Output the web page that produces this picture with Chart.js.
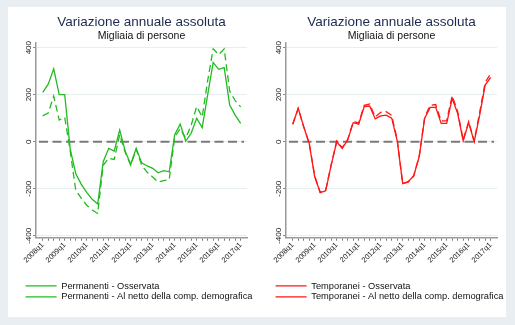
<!DOCTYPE html>
<html>
<head>
<meta charset="utf-8">
<script src="https://cdn.jsdelivr.net/npm/chart.js@4.4.1/dist/chart.umd.min.js"></script>
<style>
  body { margin: 0; background: #e8eef1; }
  #page { position: relative; width: 515px; height: 325px; overflow: hidden; }
  #panel { position: absolute; left: 8px; top: 7px; width: 498px; height: 310px; background: #fff; }
  canvas { position: absolute; top: 0; }
  #cLeft { left: 0; }
  #cRight { left: 250px; }
</style>
</head>
<body>
<div id="page">
  <div id="panel"></div>
  <canvas id="cLeft" width="260" height="325"></canvas>
  <canvas id="cRight" width="260" height="325"></canvas>
</div>
<script>
// quarters 2008q1 .. 2017q1
var quarters = [
  "2008q1", "2008q2", "2008q3", "2008q4", "2009q1", "2009q2", "2009q3", "2009q4",
  "2010q1", "2010q2", "2010q3", "2010q4", "2011q1", "2011q2", "2011q3", "2011q4",
  "2012q1", "2012q2", "2012q3", "2012q4", "2013q1", "2013q2", "2013q3", "2013q4",
  "2014q1", "2014q2", "2014q3", "2014q4", "2015q1", "2015q2", "2015q3", "2015q4",
  "2016q1", "2016q2", "2016q3", "2016q4", "2017q1"
];

// Permanenti (migliaia)
var permOss = [210, 245, 310, 200, 200, -30, -135, -180, -215, -245, -265, -85, -28, -40, 50, -40,
  -96, -28, -90, -103, -113, -132, -123, -128, 30, 75, 3, 36, 100, 60, 200, 337,
  308, 315, 156, 113, 78];
var permNetto = [110, 122, 194, 92, 104, -40, -205, -240, -270, -290, -305, -100, -70, -75, 30, -45,
  -100, -32, -100, -130, -150, -172, -165, -162, 20, 55, 15, 70, 150, 105, 260, 395,
  370, 395, 215, 175, 148];

// Temporanei (migliaia)
var tempOss = [74, 142, 64, -7, -149, -217, -208, -99, 0, -28, 7, 81, 75, 149, 152, 97,
  110, 113, 100, 5, -178, -170, -145, -64, 100, 146, 146, 78, 78, 184, 120, 4,
  81, 0, 113, 241, 274];
var tempNetto = [74, 142, 64, -7, -145, -215, -205, -97, 3, -25, 10, 85, 80, 155, 160, 105,
  125, 128, 112, 10, -178, -172, -145, -62, 105, 155, 158, 88, 90, 195, 128, 8,
  86, 3, 125, 252, 290];

var yTicks = [-400, -200, 0, 200, 400];
var zeroLine = 0;

var titleText = "Variazione annuale assoluta";
var subtitleText = "Migliaia di persone";

Chart.defaults.font.family = '"Liberation Sans", Arial, Helvetica, sans-serif';
Chart.defaults.color = "#222";

// dashed reference line at zero
var zeroLinePlugin = {
  id: "zeroLine",
  beforeDatasetsDraw: function (chart) {
    var ctx = chart.ctx, area = chart.chartArea;
    var py = chart.scales.y.getPixelForValue(zeroLine);
    ctx.save();
    ctx.strokeStyle = "#7a7a7a";
    ctx.lineWidth = 2;
    ctx.setLineDash([9, 4.5]);
    ctx.beginPath();
    ctx.moveTo(area.left + 3, py);
    ctx.lineTo(area.right - 3, py);
    ctx.stroke();
    ctx.restore();
  }
};

// vertical y tick labels (Chart.js does not rotate y labels)
var vertYLabels = {
  id: "vertYLabels",
  afterDraw: function (chart) {
    var ctx = chart.ctx, y = chart.scales.y;
    ctx.save();
    ctx.font = '8px "Liberation Sans", Arial, sans-serif';
    ctx.fillStyle = "#222";
    ctx.textAlign = "center";
    ctx.textBaseline = "middle";
    y.ticks.forEach(function (t) {
      ctx.save();
      ctx.translate(chart.chartArea.left - 7.5, y.getPixelForValue(t.value));
      ctx.rotate(-Math.PI / 2);
      ctx.fillText(String(t.value), 0, 0);
      ctx.restore();
    });
    ctx.restore();
  }
};

function toPoints(arr) {
  return arr.map(function (v, i) { return { x: i, y: v }; });
}

function makeChart(id, oss, netto, color, labelOss, labelNetto) {
  var ctx = document.getElementById(id).getContext("2d");
  return new Chart(ctx, {
    type: "line",
    data: {
      datasets: [
        {
          label: labelOss,
          data: toPoints(oss),
          borderColor: color,
          backgroundColor: color,
          borderWidth: 1.3,
          pointRadius: 0,
          tension: 0,
        },
        {
          label: labelNetto,
          data: toPoints(netto),
          borderColor: color,
          backgroundColor: color,
          borderWidth: 1.3,
          borderDash: [7, 4],
          pointRadius: 0,
          tension: 0,
        },
      ],
    },
    options: {
      responsive: false,
      animation: false,
      layout: { padding: { left: 24, right: 0, top: 0, bottom: 13.5 } },
      plugins: {
        title: {
          display: true,
          text: titleText,
          fullSize: false,
          color: "#1b2a4e",
          font: { size: 13.5, weight: "normal", lineHeight: 1.1 },
          padding: { top: 15, bottom: 0 },
        },
        subtitle: {
          display: true,
          text: subtitleText,
          fullSize: false,
          color: "#111",
          font: { size: 10.5, weight: "normal", lineHeight: 1.2 },
          padding: { top: 0, bottom: 0.5 },
        },
        legend: {
          position: "bottom",
          align: "start",
          labels: {
            usePointStyle: true,
            pointStyle: "line",
            pointStyleWidth: 31,
            boxWidth: 31,
            padding: 1.6,
            color: "#111",
            font: { size: 9.3 },
          },
        },
        tooltip: { enabled: false },
      },
      scales: {
        x: {
          type: "linear",
          min: -1.22,
          max: 37.15,
          afterBuildTicks: function (s) {
            s.ticks = quarters.map(function (q, i) { return { value: i }; });
          },
          afterFit: function (s) {
            s.height = 42;
            s.paddingRight = 13; // keeps plot right edge off the canvas edge
          },
          grid: { drawOnChartArea: false, drawTicks: true, tickLength: 3, color: "#777", tickWidth: 1 },
          border: { display: true, color: "#9a9a9a", width: 1.5 },
          ticks: {
            autoSkip: false,
            minRotation: 45,
            maxRotation: 45,
            padding: 0,
            color: "#222",
            font: { size: 7.5 },
            callback: function (value) {
              return value % 4 === 0 ? quarters[value] : "";
            },
          },
        },
        y: {
          min: -408,
          max: 420,
          afterBuildTicks: function (s) {
            s.ticks = yTicks.map(function (v) { return { value: v }; });
          },
          afterFit: function (s) { s.width = 12; },
          grid: { color: "#e6eef0", lineWidth: 1, tickColor: "#888", tickLength: 3 },
          border: { display: true, color: "#9a9a9a", width: 1.5 },
          ticks: { display: false },
        },
      },
    },
    plugins: [zeroLinePlugin, vertYLabels],
  });
}

makeChart("cLeft", permOss, permNetto, "rgb(34,187,34)",
  "Permanenti - Osservata", "Permanenti - Al netto della comp. demografica");
makeChart("cRight", tempOss, tempNetto, "rgb(255,22,22)",
  "Temporanei - Osservata", "Temporanei - Al netto della comp. demografica");
</script>
</body>
</html>
